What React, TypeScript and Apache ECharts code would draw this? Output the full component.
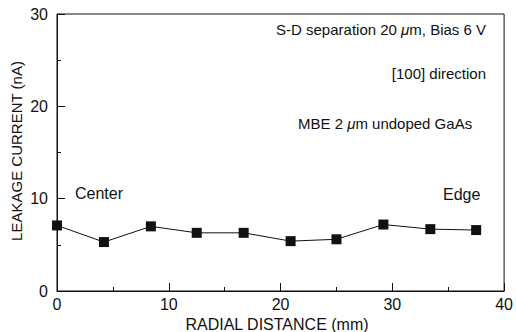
import React, { useEffect, useRef } from "react";
import * as echarts from "echarts";

const distances = [0, 4.2, 8.4, 12.5, 16.7, 20.9, 25.0, 29.2, 33.4, 37.5];
const currents = [7.1, 5.3, 7.0, 6.3, 6.3, 5.4, 5.6, 7.2, 6.7, 6.6];
const xTicks = [0, 10, 20, 30, 40];
const yTicks = [0, 10, 20, 30];

const FONT = "Liberation Sans";
const INK = "#111";
const FS = 16;
const FT = 15;

export default function App() {
  const ref = useRef<HTMLDivElement>(null);
  useEffect(() => {
    if (!ref.current) return;
    const chart = echarts.init(ref.current, null, { renderer: "svg" });
    const data = distances.map((d, i) => [d, currents[i]]);
    const rich = { i: { fontStyle: "italic", fontSize: FT, fontFamily: FONT } };
    chart.setOption({
      animation: false,
      backgroundColor: "#fff",
      textStyle: { fontFamily: FONT, color: INK },
      grid: {
        left: 57,
        right: 5,
        top: 14,
        bottom: 41,
        show: true,
        borderColor: INK,
        borderWidth: 1,
      },
      xAxis: {
        type: "value",
        min: xTicks[0],
        max: xTicks[xTicks.length - 1],
        interval: 10,
        axisLine: { show: true, lineStyle: { color: INK, width: 1 } },
        axisTick: { show: true, inside: true, length: 8, lineStyle: { color: INK } },
        minorTick: { show: true, splitNumber: 2, length: 4, lineStyle: { color: INK } },
        splitLine: { show: false },
        axisLabel: { color: INK, fontSize: FS, fontFamily: FONT, margin: 5 },
      },
      yAxis: {
        type: "value",
        min: yTicks[0],
        max: yTicks[yTicks.length - 1],
        interval: 10,
        axisLine: { show: true, lineStyle: { color: INK, width: 1 } },
        axisTick: { show: true, inside: true, length: 8, lineStyle: { color: INK } },
        minorTick: { show: true, splitNumber: 2, length: 4, lineStyle: { color: INK } },
        splitLine: { show: false },
        axisLabel: { color: INK, fontSize: FS, fontFamily: FONT, margin: 9 },
      },
      series: [
        {
          type: "line",
          data,
          symbol: "rect",
          symbolSize: 10,
          itemStyle: { color: INK },
          lineStyle: { color: INK, width: 1 },
        },
      ],
      graphic: [
        {
          type: "text",
          right: 30,
          top: 22,
          style: {
            text: "S-D separation 20 {i|μ}m, Bias 6 V",
            font: `${FT}px "${FONT}"`,
            fill: INK,
            rich,
          },
        },
        {
          type: "text",
          right: 30,
          top: 66,
          style: { text: "[100] direction", font: `${FT}px "${FONT}"`, fill: INK },
        },
        {
          type: "text",
          left: 298,
          top: 116,
          style: {
            text: "MBE 2 {i|μ}m undoped GaAs",
            font: `${FT}px "${FONT}"`,
            fill: INK,
            rich,
          },
        },
        {
          type: "text",
          left: 75,
          top: 185,
          style: { text: "Center", font: `${FS}px "${FONT}"`, fill: INK },
        },
        {
          type: "text",
          left: 443,
          top: 186,
          style: { text: "Edge", font: `${FS}px "${FONT}"`, fill: INK },
        },
        {
          type: "text",
          x: 277,
          y: 324,
          style: {
            text: "RADIAL DISTANCE (mm)",
            font: `${FS}px "${FONT}"`,
            fill: INK,
            align: "center",
            verticalAlign: "middle",
          },
        },
        {
          type: "text",
          x: 16,
          y: 151,
          rotation: Math.PI / 2,
          style: {
            text: "LEAKAGE CURRENT (nA)",
            font: `${FT}px "${FONT}"`,
            fill: INK,
            align: "center",
            verticalAlign: "middle",
          },
        },
      ],
    });
    return () => chart.dispose();
  }, []);
  return <div ref={ref} style={{ width: 516, height: 332, position: "absolute", left: 0, top: 0 }} />;
}
